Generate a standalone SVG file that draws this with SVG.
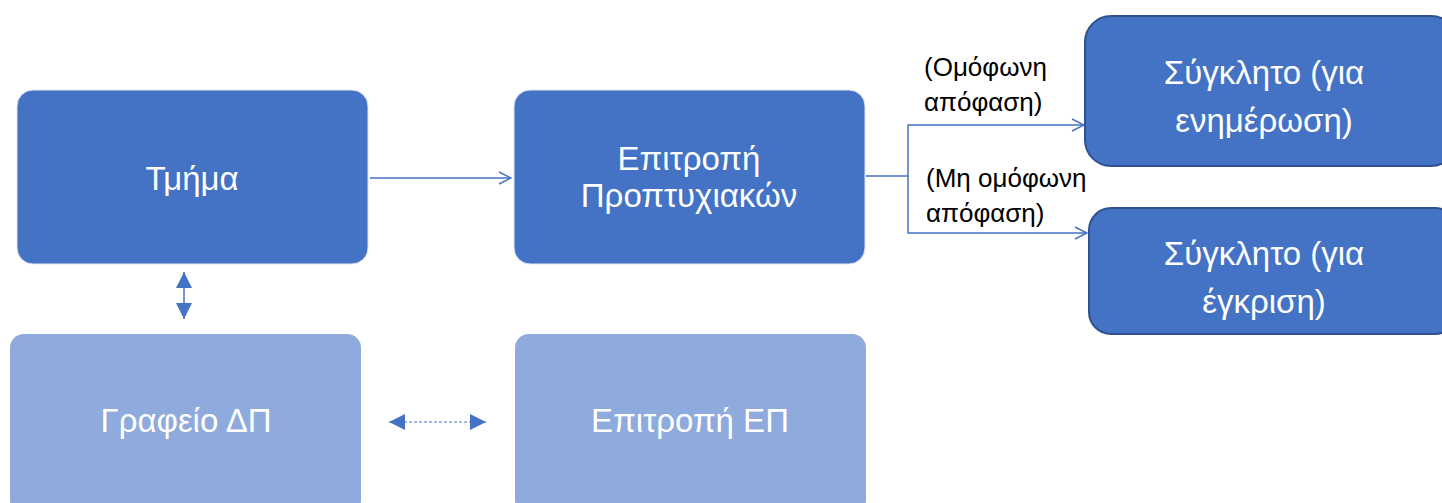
<svg xmlns="http://www.w3.org/2000/svg" width="1442" height="503" viewBox="0 0 1442 503">
<style>
.dark{fill:#4472C4;stroke:#dfe6f3;stroke-width:1}
.sk{fill:#4472C4;stroke:#2F528F;stroke-width:2}
.light{fill:#8FAADC}
.bt{font-family:"Liberation Sans",Arial,sans-serif;font-size:33px;fill:#fff;text-anchor:middle}
.lb{font-family:"Liberation Sans",Arial,sans-serif;font-size:26px;fill:#000}
.ln{fill:none;stroke:#4472C4;stroke-width:2}
</style>
<defs>
<marker id="open" viewBox="0 0 14 14" refX="13" refY="7" markerWidth="14" markerHeight="14" markerUnits="userSpaceOnUse" orient="auto">
<path d="M1,1 L13,7 L1,13" fill="none" stroke="#4472C4" stroke-width="1.5"/>
</marker>
<marker id="tri" viewBox="0 0 10 10" refX="10" refY="5" markerWidth="16" markerHeight="16" markerUnits="userSpaceOnUse" orient="auto-start-reverse">
<path d="M0,0 L10,5 L0,10 Z" fill="#4472C4"/>
</marker>
</defs>
<g id="connectors">
<line class="ln" x1="370" y1="178" x2="511" y2="178" marker-end="url(#open)" style="stroke-width:1.5"/>
<path class="ln" d="M866,176 H908 V125 H1084" marker-end="url(#open)" style="stroke-width:1.5"/>
<path class="ln" d="M908,176 V233 H1087" marker-end="url(#open)" style="stroke-width:1.5"/>
<line class="ln" x1="184" y1="272" x2="184" y2="319" marker-start="url(#tri)" marker-end="url(#tri)" style="stroke-width:1.5"/>
<line class="ln" x1="389" y1="422" x2="486" y2="422" stroke-dasharray="3,2" marker-start="url(#tri)" marker-end="url(#tri)" style="stroke-width:1.2"/>
<text class="lb" x="924" y="76">(Ομόφωνη</text>
<text class="lb" x="924" y="111">απόφαση)</text>
<text class="lb" x="926" y="187">(Μη ομόφωνη</text>
<text class="lb" x="926" y="222">απόφαση)</text>
</g>
<g id="tmima">
<rect class="dark" x="17" y="90" width="351" height="174" rx="16"/>
<text class="bt" x="192" y="190">Τμήμα</text>
</g>
<g id="epitropi-proptyxiakon">
<rect class="dark" x="514" y="90" width="351" height="174" rx="16"/>
<text class="bt" x="689" y="170">Επιτροπή</text>
<text class="bt" x="689" y="207">Προπτυχιακών</text>
</g>
<g id="sygklito-enimerosi">
<rect class="sk" x="1085" y="16" width="372" height="150" rx="26"/>
<text class="bt" x="1264" y="84">Σύγκλητο (για</text>
<text class="bt" x="1264" y="132">ενημέρωση)</text>
</g>
<g id="sygklito-egkrisi">
<rect class="sk" x="1089" y="208" width="368" height="126" rx="22"/>
<text class="bt" x="1264" y="265">Σύγκλητο (για</text>
<text class="bt" x="1264" y="313">έγκριση)</text>
</g>
<g id="grafeio-dp">
<rect class="light" x="10" y="334" width="351" height="180" rx="14"/>
<text class="bt" x="186" y="432">Γραφείο ΔΠ</text>
</g>
<g id="epitropi-ep">
<rect class="light" x="515" y="334" width="351" height="180" rx="14"/>
<text class="bt" x="690" y="432">Επιτροπή ΕΠ</text>
</g>
</svg>
